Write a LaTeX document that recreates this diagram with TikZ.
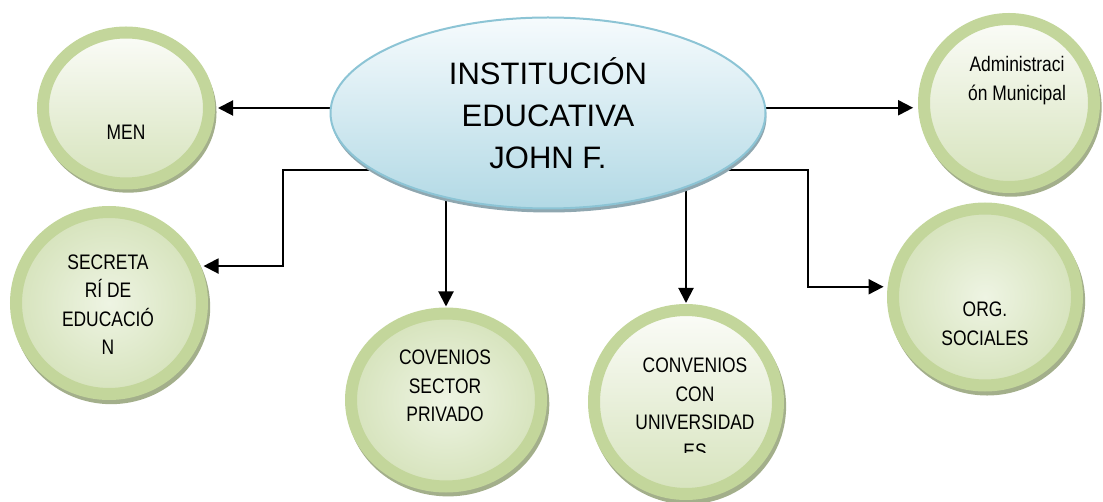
\documentclass[tikz,border=0pt]{standalone}
\usepackage{fontspec}
\setmainfont{Liberation Sans}
\newfontfamily\narrowsans[FakeStretch=0.83]{Liberation Sans}
\usetikzlibrary{shapes.geometric,shadows,arrows.meta,backgrounds}
\definecolor{ringgreen}{HTML}{C3D69B}
\definecolor{fillTop}{HTML}{FBFCF8}
\definecolor{fillBot}{HTML}{D6E3BC}
\definecolor{fillMid}{HTML}{EEF4E3}
\definecolor{shadowgreen}{HTML}{A3AF8B}
\definecolor{ellTop}{HTML}{F6FBFD}
\definecolor{ellBot}{HTML}{B2D9E5}
\definecolor{ellLine}{HTML}{8CC4D5}
\definecolor{ellShadow}{HTML}{8FA7B0}
\tikzset{
  bubble/.style={ellipse, draw=ringgreen, line width=12pt, inner sep=0pt,
    drop shadow={shadow xshift=2pt, shadow yshift=-4pt, shadow scale=1.065, fill=shadowgreen, opacity=1}},
  linbubble/.style={bubble, top color=fillTop, bottom color=fillBot},
  radbubble/.style={bubble, inner color=fillMid, outer color=fillBot},
  smalltext/.style={align=center, inner sep=0pt, font=\narrowsans\fontsize{21}{28.5}\selectfont},
  conn/.style={line width=2pt, -{Triangle[length=15pt,width=15pt]}, shorten >=3pt},
}
\begin{document}
\begin{tikzpicture}[x=1pt,y=-1pt]
\useasboundingbox (0,0) rectangle (1103,502);
% central ellipse
\node[ellipse, draw=ellLine, line width=2pt, minimum width=435pt, minimum height=191pt,
  top color=ellTop, bottom color=ellBot,
  drop shadow={shadow xshift=1pt, shadow yshift=-4pt, fill=ellShadow, opacity=1},
  align=center, font=\fontsize{31}{42}\selectfont, inner sep=0pt]
  (main) at (548,113) {INSTITUCIÓN\\EDUCATIVA\\JOHN F.};
% bubbles
\node[linbubble, minimum width=166pt, minimum height=151pt] (men) at (126,108) {};
\node[radbubble, minimum width=186pt, minimum height=182pt] (sec) at (109,303) {};
\node[radbubble, minimum width=190pt, minimum height=173pt] (cov) at (446,400) {};
\node[linbubble, minimum width=184pt, minimum height=184pt] (uni) at (686,402) {};
\node[linbubble, minimum width=170pt, minimum height=168pt] (admin) at (1009,103) {};
\node[radbubble, minimum width=184pt, minimum height=177pt] (org) at (985,297) {};
% texts
\node[smalltext] (men-t) at (126,132.5) {MEN};
\node[smalltext] (sec-t) at (108,304.5) {SECRETA\\RÍ DE\\EDUCACIÓ\\N};
\node[smalltext] (cov-t) at (445,386) {COVENIOS\\SECTOR\\PRIVADO};
\begin{scope}
\clip (560,300) rectangle (820,452);
\node[smalltext] (uni-t) at (695,408.3) {CONVENIOS\\CON\\UNIVERSIDAD\\ES};
\end{scope}
\node[smalltext] (admin-t) at (1017,80.5) {Administraci\\ón Municipal};
\node[smalltext] (org-t) at (985,324) {ORG.\\SOCIALES};
% connectors
\coordinate (secbend) at (283,170);
\coordinate (orgbend) at (808,170);
\begin{scope}[on background layer]
\draw[conn] (main.center |- men.east) -- (men.east);
\draw[conn, shorten >=5pt] (main.center |- admin.183) -- (admin.183);
\draw[conn] (main.center |- secbend) -- (secbend) -- (secbend |- sec.22) -- (sec.22);
\draw[conn, shorten >=4pt] (main.center |- orgbend) -- (orgbend) -- (orgbend |- org.174) -- (org.174);
\draw[conn, shorten >=1pt] (main.center -| cov.north) -- (cov.north);
\draw[conn, shorten >=1pt] (main.center -| uni.north) -- (uni.north);
\end{scope}
\end{tikzpicture}
\end{document}
